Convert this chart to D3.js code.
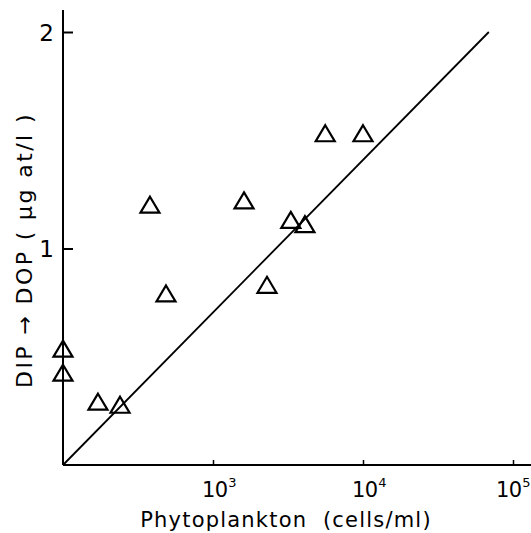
<!DOCTYPE html>
<html>
<head>
<meta charset="utf-8">
<script src="https://cdn.jsdelivr.net/npm/d3@7"></script>
<style>
  html, body { margin: 0; padding: 0; background: #fff; }
  svg { display: block; }
  text { font-family: "DejaVu Sans", sans-serif; fill: #000; }
</style>
</head>
<body>
<svg id="chart" width="531" height="533"></svg>
<script>
// Phytoplankton abundance vs. DIP -> DOP conversion
const cells = [100, 100, 171, 240, 380, 486, 1610, 2290, 3300, 4100, 5600, 10000];
const dop   = [0.535, 0.424, 0.29, 0.276, 1.20, 0.79, 1.22, 0.83, 1.13, 1.11, 1.53, 1.53];

// regression line end points
const fitCells = [100, 69000];
const fitDop   = [0, 2.0];

const xTicks = [1e3, 1e4, 1e5];
const xTickExp = ["3", "4", "5"];
const yTicks = [1, 2];

const W = 531;
const svg = d3.select("#chart");

const x = d3.scaleLog().domain([100, 1e5]).range([63, 513]);
const y = d3.scaleLinear().domain([0, 2]).range([465, 32]);

// axes lines
svg.append("line")
  .attr("x1", x(100)).attr("x2", x(100))
  .attr("y1", y(0)).attr("y2", 10)
  .attr("stroke", "#000").attr("stroke-width", 2);
svg.append("line")
  .attr("x1", x(100)).attr("x2", W)
  .attr("y1", y(0)).attr("y2", y(0))
  .attr("stroke", "#000").attr("stroke-width", 2);

// y ticks (pointing inward)
const yAxis = svg.append("g")
  .attr("transform", `translate(${x(100)},0)`)
  .call(d3.axisLeft(y).tickValues(yTicks).tickSize(-10).tickPadding(9).tickFormat(d3.format("d")));
yAxis.select(".domain").remove();
yAxis.selectAll(".tick line").attr("stroke", "#000").attr("stroke-width", 2);
yAxis.selectAll(".tick text")
  .attr("font-size", 23).attr("font-family", "DejaVu Sans, sans-serif").attr("fill", "#000")
  .attr("dy", "0.36em");

// x ticks (pointing inward)
const xAxis = svg.append("g")
  .attr("transform", `translate(0,${y(0)})`)
  .call(d3.axisBottom(x).tickValues(xTicks).tickSize(-5).tickFormat(""));
xAxis.select(".domain").remove();
xAxis.selectAll(".tick line").attr("stroke", "#000").attr("stroke-width", 1.5);

// powers-of-ten tick labels, kept inside the drawing area
const xl = svg.append("g").selectAll("text").data(xTicks).join("text")
  .attr("y", 497)
  .attr("text-anchor", "start")
  .attr("font-size", 21);
xl.append("tspan").attr("letter-spacing", -0.5).text("10");
xl.append("tspan").attr("dx", 0.5).attr("dy", -10).attr("font-size", 13)
  .text((d, i) => xTickExp[i]);
xl.attr("x", function(d) {
  const w = this.getComputedTextLength();
  return Math.min(x(d) - 11, W - 1 - w);
});

// regression line
svg.append("path")
  .datum(fitCells.map((c, i) => [c, fitDop[i]]))
  .attr("d", d3.line().x(d => x(d[0])).y(d => y(d[1])))
  .attr("fill", "none").attr("stroke", "#000").attr("stroke-width", 1.8);

// open triangle markers
const tri = "M0,-8.5L9.5,7.5L-9.5,7.5Z";
svg.append("g").selectAll("path").data(cells).join("path")
  .attr("d", tri)
  .attr("transform", (d, i) => `translate(${x(d)},${y(dop[i])})`)
  .attr("fill", "none").attr("stroke", "#000").attr("stroke-width", 2.2)
  .attr("stroke-linejoin", "miter");

// axis titles
svg.append("text")
  .attr("x", 286).attr("y", 527)
  .attr("text-anchor", "middle")
  .attr("font-size", 21)
  .attr("letter-spacing", 1.2)
  .attr("xml:space", "preserve")
  .text("Phytoplankton  (cells/ml)");

svg.append("text")
  .attr("transform", "translate(32,250) rotate(-90)")
  .attr("text-anchor", "middle")
  .attr("font-size", 22)
  .attr("letter-spacing", 2.4)
  .attr("xml:space", "preserve")
  .text("DIP \u2192 DOP ( \u03bcg at/l )");
</script>
</body>
</html>
